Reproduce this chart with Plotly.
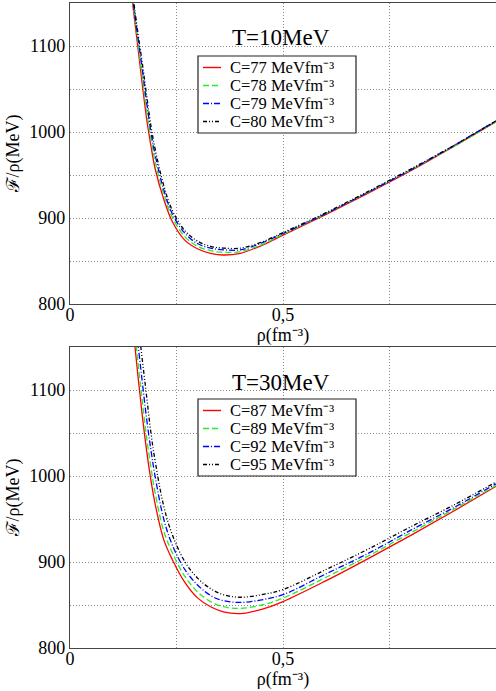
import plotly.graph_objects as go
from plotly.subplots import make_subplots

rho = [0.14, 0.15, 0.16, 0.17, 0.18, 0.19, 0.20, 0.22, 0.24, 0.27, 0.30, 0.33, 0.36,
       0.40, 0.45, 0.50, 0.60, 0.70, 0.80, 0.90, 1.00]

# Top panel, T=10 MeV
top_title = "T=10MeV"
top_labels = ["C=77 MeVfm⁻³", "C=78 MeVfm⁻³", "C=79 MeVfm⁻³", "C=80 MeVfm⁻³"]
top_c77 = [1179, 1137, 1096, 1054, 1015, 984, 957, 922, 896, 874, 864, 859, 857, 859, 868, 880, 904, 929, 955, 983, 1012]
top_c78 = [1183, 1142, 1102, 1063, 1024, 992, 965, 928, 901, 878, 867, 862, 860, 861, 869, 881, 905, 930, 956, 983, 1012]
top_c79 = [1187, 1146, 1108, 1072, 1034, 1000, 973, 933, 905, 882, 870, 865, 863, 863, 871, 882, 905, 930, 956, 984, 1013]
top_c80 = [1190, 1150, 1113, 1079, 1042, 1007, 980, 938, 909, 885, 873, 867, 865, 865, 872, 883, 906, 931, 957, 984, 1013]

# Bottom panel, T=30 MeV
bot_title = "T=30MeV"
bot_labels = ["C=87 MeVfm⁻³", "C=89 MeVfm⁻³", "C=92 MeVfm⁻³", "C=95 MeVfm⁻³"]
bot_c87 = [1210, 1163, 1114, 1069, 1029, 995, 967, 926, 903, 876, 858, 848, 842, 840, 845, 854, 878, 904, 931, 959, 988]
bot_c89 = [1225, 1178, 1130, 1086, 1044, 1010, 980, 936, 911, 883, 865, 854, 848, 846, 850, 858, 882, 907, 934, 961, 989]
bot_c92 = [1245, 1198, 1152, 1108, 1066, 1030, 999, 950, 920, 891, 873, 861, 855, 853, 856, 862, 886, 910, 937, 963, 991]
bot_c95 = [1262, 1218, 1176, 1134, 1092, 1050, 1017, 965, 932, 900, 881, 869, 862, 859, 862, 868, 891, 915, 941, 966, 993]

x_ticks = [0, 0.25, 0.5, 0.75, 1.0]
x_ticktext = ["0", "", "0,5", "", ""]
y_ticks = [800, 850, 900, 950, 1000, 1050, 1100, 1150]
y_ticktext = ["800", "", "900", "", "1000", "", "1100", ""]

colors = ["#ff0000", "#22ee22", "#0000ff", "#000000"]
dashes = ["solid", "6px,3px", "6px,2px,1px,2px", "4px,2px,1px,2px,1px,2px"]

FONT = "Liberation Serif, Times New Roman, Times, serif"
W, H = 496, 691
ML, MR, MT, MB = 70, 0, 3, 43
PW, PH = W - ML - MR, H - MT - MB


def px_x(px):
    return (px - ML) / PW


def px_y(py):
    return (H - MB - py) / PH


fig = make_subplots(rows=2, cols=1, vertical_spacing=0.0)

for i, ys in enumerate([top_c77, top_c78, top_c79, top_c80]):
    fig.add_trace(go.Scatter(x=rho, y=ys, mode="lines", name=top_labels[i], showlegend=False,
                             line=dict(color=colors[i], dash=dashes[i], width=1.3, shape="spline")),
                  row=1, col=1)
for i, ys in enumerate([bot_c87, bot_c89, bot_c92, bot_c95]):
    fig.add_trace(go.Scatter(x=rho, y=ys, mode="lines", name=bot_labels[i], showlegend=False,
                             line=dict(color=colors[i], dash=dashes[i], width=1.3, shape="spline")),
                  row=2, col=1)

axis_common = dict(showline=True, mirror=True, linecolor="#444444", linewidth=1.3,
                   showgrid=True, gridcolor="#8a8a8a", griddash="1px,2px", gridwidth=1,
                   zeroline=False, ticks="", tickfont=dict(family=FONT, size=18, color="#000"))

top_dom = [px_y(304), 1.0]
bot_dom = [0.0, px_y(347)]
for r, dom in [(1, top_dom), (2, bot_dom)]:
    fig.update_xaxes(range=[0, 1], tickmode="array", tickvals=x_ticks, ticktext=x_ticktext,
                     ticklabelstandoff=-6,
                     title=dict(text="ρ(fm⁻³)", font=dict(family=FONT, size=18, color="#000"), standoff=0),
                     row=r, col=1, **axis_common)
    fig.update_yaxes(range=[800, 1150], tickmode="array", tickvals=y_ticks, ticktext=y_ticktext,
                     domain=dom,
                     title=dict(text="ℱ/ρ(MeV)", font=dict(family=FONT, size=18, color="#000"), standoff=4),
                     row=r, col=1, **axis_common)


# Hand-built legends (box, line samples, labels) in paper coordinates
def add_legend(box_top_px, labels, title, title_px):
    fig.add_annotation(text=title, x=px_x(281), y=px_y(title_px), xref="paper", yref="paper",
                       xanchor="center", yanchor="middle",
                       showarrow=False, font=dict(family=FONT, size=23, color="#000"))
    bx0, bx1 = px_x(198), px_x(356)
    by0, by1 = px_y(box_top_px), px_y(box_top_px + 77)
    fig.add_shape(type="path", xref="paper", yref="paper",
                  path=f"M {bx0},{by0} L {bx1},{by0} L {bx1},{by1} L {bx0},{by1} Z",
                  line=dict(color="#222222", width=1.2), fillcolor="white", layer="above")
    offsets = [11.5, 29.5, 47.5, 65.5]
    for i, lab in enumerate(labels):
        yy = px_y(box_top_px + offsets[i])
        fig.add_shape(type="line", xref="paper", yref="paper",
                      x0=px_x(203), x1=px_x(221), y0=yy, y1=yy,
                      line=dict(color=colors[i], dash=dashes[i], width=1.4), layer="above")
        fig.add_annotation(text=lab, x=px_x(229), y=yy, xref="paper", yref="paper",
                           xanchor="left", yanchor="middle", showarrow=False,
                           height=17, borderpad=0,
                           font=dict(family=FONT, size=16.5, color="#000"))


add_legend(56, top_labels, top_title, 38)
add_legend(399, bot_labels, bot_title, 382)

fig.update_layout(width=W, height=H, margin=dict(l=ML, r=MR, t=MT, b=MB),
                  plot_bgcolor="white", paper_bgcolor="white", showlegend=False,
                  font=dict(family=FONT, color="#000"))

fig.write_html("out.html")
